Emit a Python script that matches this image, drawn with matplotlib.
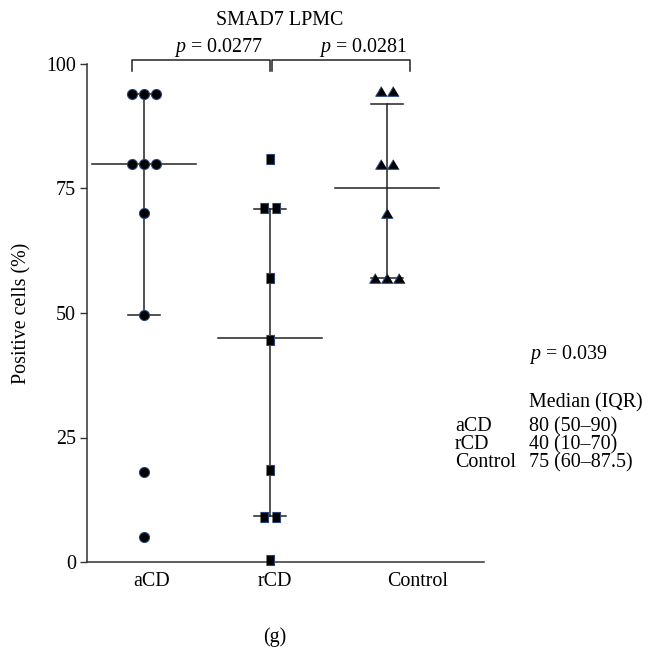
import numpy as np
import matplotlib.pyplot as plt

plt.rcParams['font.family'] = ['Liberation Serif', 'DejaVu Serif']
plt.rcParams['mathtext.fontset'] = 'custom'
plt.rcParams['mathtext.it'] = 'Liberation Serif:italic'
plt.rcParams['mathtext.rm'] = 'Liberation Serif'
plt.rcParams['font.size'] = 14.4

# data
groups = ['aCD', 'rCD', 'Control']
acd = [94, 94, 94, 80, 80, 80, 70, 49.5, 18, 5]
rcd = [81, 71, 71, 57, 44.5, 18.5, 9, 9, 0.5]
control = [94.5, 94.5, 80, 80, 70, 57, 57, 57]
medians = [80, 45, 75]
whisk_low = [49.5, 9.3, 57]
whisk_high = [94, 70.9, 92]
p_pairs = ['0.0277', '0.0281']
p_overall = '0.039'
table_rows = ['aCD', 'rCD', 'Control']
table_vals = ['80 (50–90)', '40 (10–70)', '75 (60–87.5)']

# layout (pixels)
W, H = 656, 652
x0, x1 = 87, 484
y_top, y_bot = 64, 562
centers = [144, 270, 387]
label_x = [152, 275, 418]
step = 12

fig = plt.figure(figsize=(W / 100, H / 100), dpi=100)
ax = fig.add_axes([x0 / W, 1 - y_bot / H, (x1 - x0) / W, (y_bot - y_top) / H])
ax.set_xlim(x0, x1)
ax.set_ylim(0, 100)


def ft(x, y, s, **kw):
    fig.text(x / W, 1 - y / H, s, **kw)


def spread(vals, center):
    xs = []
    for i, v in enumerate(vals):
        same = [j for j, w in enumerate(vals) if w == v]
        k = same.index(i)
        xs.append(center + (k - (len(same) - 1) / 2) * step)
    return xs


sq = [(-0.4, -0.5), (0.4, -0.5), (0.4, 0.5), (-0.4, 0.5)]
tri = [(0, 0.42), (-0.5, -0.42), (0.5, -0.42)]
markers = ['o', sq, tri]
sizes = [7.2, 7.4, 8.2]
lc = '#222222'

for i, vals in enumerate([acd, rcd, control]):
    c = centers[i]
    ax.plot([c, c], [whisk_low[i], whisk_high[i]], color=lc, lw=1.1, zorder=2)
    ax.plot([c - 52, c + 52], [medians[i], medians[i]], color=lc, lw=1.1, zorder=2)
    for yv in (whisk_low[i], whisk_high[i]):
        ax.plot([c - 16, c + 16], [yv, yv], color=lc, lw=1.1, zorder=2)
    ax.plot(spread(vals, c), vals, linestyle='none', marker=markers[i],
            ms=sizes[i], mfc='black', mec='#27457e', mew=0.8, zorder=3,
            clip_on=False)

# comparison brackets
ax.plot([132, 132, 270, 270], [98.6, 100.8, 100.8, 98.6], color=lc, lw=1.1, clip_on=False)
ax.plot([272, 272, 410, 410], [98.6, 100.8, 100.8, 98.6], color=lc, lw=1.1, clip_on=False)

ax.spines['top'].set_visible(False)
ax.spines['right'].set_visible(False)
for s in ('left', 'bottom'):
    ax.spines[s].set_linewidth(1.1)
    ax.spines[s].set_color('#333333')

ax.set_yticks([0, 25, 50, 75, 100])
ax.tick_params(axis='y', length=5, width=1.0, color='#333333', pad=3)
ax.set_xticks(label_x)
ax.set_xticklabels(groups)
ax.tick_params(axis='x', length=0, pad=7)

ft(22, 313, 'Positive cells (%)', rotation=90, ha='center', va='center')
ft(280, 25, 'SMAD7 LPMC', ha='center', va='baseline')
ft(218, 52, '$p$ = ' + p_pairs[0], ha='center', va='baseline')
ft(363, 52, '$p$ = ' + p_pairs[1], ha='center', va='baseline')

ft(529, 359, '$p$ = ' + p_overall, ha='left', va='baseline')
ft(529, 407, 'Median (IQR)', ha='left', va='baseline')
for k, (r, v) in enumerate(zip(table_rows, table_vals)):
    ft(455, 431 + 18 * k, r, ha='left', va='baseline')
    ft(529, 431 + 18 * k, v, ha='left', va='baseline')

ft(275, 637, '(g)', ha='center', va='center')

plt.savefig('out.png', dpi=100)
